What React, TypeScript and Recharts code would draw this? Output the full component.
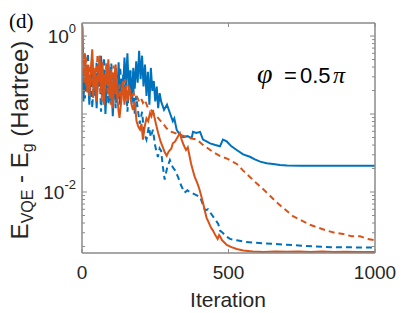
import React from 'react';
import { LineChart, Line, XAxis, YAxis } from 'recharts';

// ---------- data (iteration, E_VQE - E_g in Hartree) ----------
const blueSolidIter = [0,5,10,15,20,25,30,35,40,45,50,55,60,65,70,75,80,85,90,95,100,105,110,115,120,125,130,135,140,145,150,155,160,165,170,175,180,185,190,195,200,205,210,215,220,225,230,235,240,245,250,255,260,265,270,280,290,300,310,315,323,330,345,360,374,379,390,403,413,425,437,455,471,481,494,510,528,550,573,590,608,630,652,676,700,750,800,900,1000];
const blueSolidVal = [0.39,0.145,0.46,0.198,0.362,0.132,0.279,0.503,0.185,0.32,0.119,0.39,0.225,0.56,0.171,0.334,0.10,0.252,0.432,0.145,0.306,0.094,0.211,0.39,0.158,0.46,0.132,0.279,0.198,0.531,0.238,0.603,0.185,0.362,0.145,0.39,0.211,0.474,0.252,0.646,0.279,0.56,0.225,0.432,0.171,0.348,0.132,0.39,0.198,0.265,0.145,0.225,0.119,0.185,0.145,0.113,0.132,0.103,0.081,0.088,0.063,0.057,0.0505,0.052,0.049,0.059,0.057,0.059,0.047,0.0445,0.042,0.040,0.0385,0.047,0.0445,0.0385,0.0345,0.0303,0.0283,0.0262,0.0245,0.0234,0.0229,0.0222,0.0219,0.0217,0.0217,0.0217,0.0217];

const blueDashIter = [0,5,10,15,20,25,30,35,40,45,50,55,60,65,70,75,80,85,90,95,100,105,110,115,120,125,130,135,140,145,150,155,160,165,170,175,180,185,190,197,205,212,220,228,235,242,250,259,265,270,276,282,290,300,309,318,328,338,350,360,369,380,390,403,412,420,430,440,450,459,465,471,480,492,505,528,555,583,620,660,700,750,800,850,900,950,1000];
const blueDashVal = [0.252,0.503,0.158,0.334,0.603,0.211,0.404,0.119,0.279,0.171,0.474,0.238,0.348,0.107,0.265,0.531,0.198,0.376,0.132,0.306,0.446,0.185,0.334,0.119,0.252,0.158,0.404,0.225,0.32,0.145,0.279,0.107,0.211,0.362,0.132,0.238,0.10,0.171,0.119,0.075,0.107,0.057,0.047,0.069,0.0505,0.063,0.0385,0.028,0.0362,0.0338,0.0211,0.0144,0.020,0.0257,0.0211,0.0188,0.0155,0.0122,0.0098,0.0105,0.0098,0.0095,0.0091,0.0087,0.0070,0.0058,0.0060,0.0053,0.0047,0.0042,0.0039,0.0032,0.0030,0.0027,0.0025,0.0024,0.0023,0.00225,0.0022,0.00215,0.0021,0.00205,0.002,0.00196,0.00196,0.00194,0.00194];

const orangeSolidIter = [0,2,5,10,15,20,25,30,35,40,45,50,55,60,65,70,75,80,85,90,95,100,105,110,115,120,125,128,135,140,145,150,155,160,164,169,174,180,186,192,198,203,208,214,220,226,232,237,242,248,253,260,268,276,282,289,295,300,305,310,318,326,334,340,347,355,361,366,372,378,385,392,400,407,413,419,425,432,440,447,455,463,468,471,478,486,494,510,528,550,583,620,660,700,740,780,820,860,900,940,1000];
const orangeSolidVal = [1.42,1.27,0.32,0.603,0.225,0.432,0.171,0.362,0.675,0.198,0.39,0.145,0.306,0.56,0.185,0.46,0.132,0.334,0.238,0.503,0.158,0.376,0.119,0.279,0.432,0.171,0.107,0.089,0.158,0.265,0.132,0.211,0.145,0.198,0.185,0.132,0.113,0.145,0.081,0.069,0.063,0.075,0.047,0.069,0.088,0.081,0.103,0.094,0.113,0.088,0.073,0.057,0.0445,0.0374,0.0326,0.0291,0.0326,0.0345,0.0362,0.0421,0.0445,0.0505,0.057,0.047,0.040,0.0345,0.0374,0.0303,0.0234,0.0192,0.0155,0.0135,0.0111,0.0089,0.0073,0.0058,0.0047,0.0041,0.0035,0.0032,0.0028,0.0025,0.0028,0.0027,0.0024,0.00225,0.0021,0.00196,0.00186,0.00178,0.00173,0.0017,0.00172,0.00171,0.00173,0.0017,0.00172,0.0017,0.00171,0.0017,0.0017];

const orangeDashIter = [0,3,8,13,18,23,28,33,38,43,48,53,58,63,68,73,78,83,88,93,98,103,108,113,118,123,128,133,138,143,148,153,158,164,170,176,182,188,195,202,208,215,225,235,245,255,265,276,288,300,317,334,350,369,392,410,425,447,470,495,528,550,573,595,617,640,664,690,720,750,778,805,835,862,891,920,949,975,1000];
const orangeDashVal = [0.97,0.46,0.252,0.531,0.185,0.39,0.238,0.474,0.158,0.348,0.211,0.589,0.252,0.39,0.145,0.32,0.198,0.446,0.171,0.293,0.132,0.252,0.418,0.185,0.306,0.158,0.238,0.145,0.252,0.185,0.279,0.171,0.225,0.203,0.171,0.185,0.158,0.165,0.145,0.158,0.139,0.152,0.119,0.113,0.10,0.094,0.084,0.076,0.066,0.060,0.057,0.054,0.052,0.049,0.047,0.041,0.0374,0.0326,0.0291,0.0268,0.0229,0.0188,0.0156,0.013,0.011,0.0091,0.0074,0.0061,0.0049,0.0043,0.0038,0.0035,0.0032,0.003,0.0029,0.0027,0.0027,0.0025,0.0024];

const xTicks = [0, 500, 1000];
const yDomain = [0.00165, 1.47];
const yMajor = [0.01, 0.1, 1];
const yLabelled = [0.01, 1];
const yMinor = [0.002,0.003,0.004,0.005,0.006,0.007,0.008,0.009,0.02,0.03,0.04,0.05,0.06,0.07,0.08,0.09,0.2,0.3,0.4,0.5,0.6,0.7,0.8,0.9];
const yTicks = [...yMinor, ...yMajor].sort((a, b) => a - b);

const toData = (iters: number[], vals: number[]) => iters.map((it, i) => ({ iter: it, v: vals[i] }));
const blueSolid = toData(blueSolidIter, blueSolidVal);
const blueDash = toData(blueDashIter, blueDashVal);
const orangeSolid = toData(orangeSolidIter, orangeSolidVal);
const orangeDash = toData(orangeDashIter, orangeDashVal);

// ---------- styling / layout ----------
const W = 415, H = 313;
const PL = 82, PR = 375, PT = 23, PB = 253;
const AXIS = '#8a8a8a';
const BLUE = '#0072BD';
const ORANGE = '#D95319';
const FONT = '"Liberation Sans", Arial, Helvetica, sans-serif';
const SERIF = '"Liberation Serif", "Times New Roman", serif';

const near = (a: number, b: number) => Math.abs(a - b) < 1e-9;
const isMajor = (v: number) => yMajor.some((m) => near(m, v));
const isLabelled = (v: number) => yLabelled.some((m) => near(m, v));

const LeftTick = (props: any) => {
  const { y, payload } = props;
  const v = payload.value;
  const major = isMajor(v);
  const exp = Math.round(Math.log10(v));
  return (
    <g>
      <line x1={PL} x2={PL + (major ? 5 : 3)} y1={y} y2={y} stroke={AXIS} strokeWidth={1} />
      {isLabelled(v) && (
        <text x={PL - 6} y={y + 7} textAnchor="end" fill="#262626" fontFamily={FONT}>
          <tspan fontSize={19}>10</tspan>
          <tspan fontSize={13} dy={-10}>{`${exp}`}</tspan>
        </text>
      )}
    </g>
  );
};

const RightTick = (props: any) => {
  const { y, payload } = props;
  const major = isMajor(payload.value);
  return <line x1={PR} x2={PR - (major ? 5 : 3)} y1={y} y2={y} stroke={AXIS} strokeWidth={1} />;
};

const BottomTick = (props: any) => {
  const { x, payload } = props;
  return (
    <g>
      <line x1={x} x2={x} y1={PB} y2={PB - 4} stroke={AXIS} strokeWidth={1} />
      <text x={x} y={279} textAnchor="middle" fontSize={19} fill="#262626" fontFamily={FONT}>{payload.value}</text>
    </g>
  );
};

const TopTick = (props: any) => {
  const { x } = props;
  return <line x1={x} x2={x} y1={PT} y2={PT + 4} stroke={AXIS} strokeWidth={1} />;
};

export default function App() {
  return (
    <div style={{ position: 'absolute', left: 0, top: 0, width: W, height: H, background: '#fff' }}>
      <LineChart width={W} height={H} margin={{ top: PT - 1, right: W - PR - 1, bottom: H - PB - 1, left: PL - 1 }}>
        <XAxis xAxisId="b" dataKey="iter" type="number" domain={[0, 1000]} allowDataOverflow ticks={xTicks} interval={0}
          height={1} tickLine={false} tick={<BottomTick />} axisLine={{ stroke: AXIS, strokeWidth: 1.5 }} />
        <XAxis xAxisId="t" orientation="top" dataKey="iter" type="number" domain={[0, 1000]} allowDataOverflow ticks={xTicks} interval={0}
          height={1} tickLine={false} tick={<TopTick />} axisLine={{ stroke: AXIS, strokeWidth: 1.5 }} />
        <YAxis yAxisId="l" scale="log" type="number" domain={yDomain} allowDataOverflow ticks={yTicks} interval={0}
          width={1} tickLine={false} tick={<LeftTick />} axisLine={{ stroke: AXIS, strokeWidth: 1.5 }} />
        <YAxis yAxisId="r" orientation="right" scale="log" type="number" domain={yDomain} allowDataOverflow ticks={yTicks} interval={0}
          width={1} tickLine={false} tick={<RightTick />} axisLine={{ stroke: AXIS, strokeWidth: 1.5 }} />
        <Line xAxisId="b" yAxisId="l" data={blueDash} dataKey="v" stroke={BLUE} strokeWidth={2} strokeDasharray="6 4" dot={false} isAnimationActive={false} />
        <Line xAxisId="b" yAxisId="l" data={blueSolid} dataKey="v" stroke={BLUE} strokeWidth={2} dot={false} isAnimationActive={false} />
        <Line xAxisId="b" yAxisId="l" data={orangeDash} dataKey="v" stroke={ORANGE} strokeWidth={2} strokeDasharray="6 4" dot={false} isAnimationActive={false} />
        <Line xAxisId="b" yAxisId="l" data={orangeSolid} dataKey="v" stroke={ORANGE} strokeWidth={2} dot={false} isAnimationActive={false} />
      </LineChart>
      <svg width={W} height={H} style={{ position: 'absolute', left: 0, top: 0, pointerEvents: 'none' }}>
        <text x={9} y={28} fontFamily={SERIF} fontSize={21} fill="#000">(d)</text>
        <text x={228} y={307} textAnchor="middle" fontFamily={FONT} fontSize={21} fill="#262626">Iteration</text>
        <text transform="translate(28,140) rotate(-90)" textAnchor="middle" fontFamily={FONT} fontSize={24} fill="#262626">
          <tspan>E</tspan>
          <tspan fontSize={16} dy={5}>VQE</tspan>
          <tspan dy={-5}> - E</tspan>
          <tspan fontSize={16} dy={5}>g</tspan>
          <tspan dy={-5}> (Hartree)</tspan>
        </text>
        <text x={257} y={83} fontFamily={SERIF} fontStyle="italic" fontSize={28} fill="#000">φ</text>
        <text x={284} y={83} fontFamily={FONT} fontSize={22} fill="#000">=</text>
        <text x={300} y={83} fontFamily={FONT} fontSize={22} fill="#000">0.5</text>
        <text x={333} y={83} fontFamily={SERIF} fontStyle="italic" fontSize={24} fill="#000">π</text>
      </svg>
    </div>
  );
}
